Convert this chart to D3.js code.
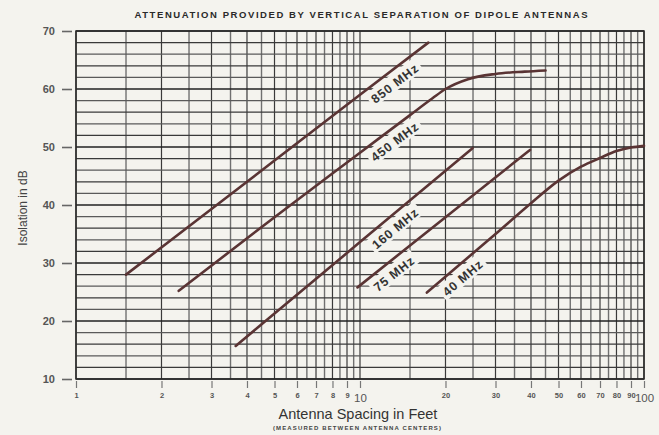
<!DOCTYPE html>
<html>
<head>
<meta charset="utf-8">
<script src="https://cdn.jsdelivr.net/npm/d3@7"></script>
<style>
  html, body { margin: 0; padding: 0; background: #f4f3ee; }
  svg { display: block; }
  text { font-family: "Liberation Sans", Arial, Helvetica, sans-serif; }
</style>
</head>
<body>
<svg id="chart" width="659" height="435"></svg>
<script>
// Isolation (dB) versus vertical antenna spacing (feet) for each band
const ft850 = [1.5, 3, 10, 17.4];
const db850 = [28, 39.3, 59, 68];
const ft450 = [2.3, 5, 10, 15, 18, 20, 24, 30, 38, 45];
const db450 = [25.2, 37.9, 49, 55.5, 58.4, 60, 61.7, 62.6, 63.0, 63.2];
const ft160 = [3.65, 10, 24.9];
const db160 = [15.7, 33.6, 49.8];
const ft75 = [9.8, 20, 39.7];
const db75 = [25.8, 37.9, 49.5];
const ft40 = [17.2, 30, 40, 50, 60, 70, 80, 90, 100];
const db40 = [24.9, 35, 40.3, 44.2, 46.6, 48.1, 49.3, 49.9, 50.2];

const bandNames = ["850 MHz", "450 MHz", "160 MHz", "75 MHz", "40 MHz"];
const labelFeet = [12.5, 12.5, 12.5, 12.4, 21.6];

const xTickValues = [1, 2, 3, 4, 5, 6, 7, 8, 9, 10, 20, 30, 40, 50, 60, 70, 80, 90, 100];
const yTickValues = [10, 20, 30, 40, 50, 60, 70];

const titleText = "ATTENUATION PROVIDED BY VERTICAL SEPARATION OF DIPOLE ANTENNAS";
const xTitle = "Antenna Spacing in Feet";
const xSubTitle = "(MEASURED BETWEEN ANTENNA CENTERS)";
const yTitle = "Isolation in dB";

const series = [
  { ft: ft850, db: db850 },
  { ft: ft450, db: db450 },
  { ft: ft160, db: db160 },
  { ft: ft75, db: db75 },
  { ft: ft40, db: db40 }
];

const svg = d3.select("#chart");
const plotLeft = 76, plotRight = 644, plotTop = 31, plotBottom = 379;

const x = d3.scaleLog().domain([1, 100]).range([plotLeft, plotRight]);
const y = d3.scaleLinear().domain([10, 70]).range([plotBottom, plotTop]);

// ---- grid ----
const grid = svg.append("g");
const vGrid = d3.range(1, 10, 0.5).concat(d3.range(10, 100.1, 5));
const isMajorFeet = d => Number.isInteger(d) && (d < 10 || d % 10 === 0);
grid.selectAll("line.v").data(vGrid).join("line")
  .attr("x1", d => x(d)).attr("x2", d => x(d))
  .attr("y1", plotTop).attr("y2", plotBottom)
  .attr("stroke", d => isMajorFeet(d) ? "#3a3a3a" : "#707070")
  .attr("stroke-width", d => isMajorFeet(d) ? 1.2 : 1.4);

const hGrid = d3.range(10, 70.1, 2);
grid.selectAll("line.h").data(hGrid).join("line")
  .attr("x1", plotLeft).attr("x2", plotRight)
  .attr("y1", d => y(d)).attr("y2", d => y(d))
  .attr("stroke", d => d % 10 === 0 ? "#222" : (d % 4 === 0 ? "#3a3a3a" : "#5a5a5a"))
  .attr("stroke-width", d => d % 10 === 0 ? 1.5 : 1.25);

// frame
svg.append("rect")
  .attr("x", plotLeft).attr("y", plotTop)
  .attr("width", plotRight - plotLeft).attr("height", plotBottom - plotTop)
  .attr("fill", "none").attr("stroke", "#2a2a2a").attr("stroke-width", 1.5);

// ---- axes ----
const yAxis = d3.axisLeft(y).tickValues(yTickValues).tickSize(10).tickPadding(7).tickFormat(d3.format("d"));
const gy = svg.append("g").attr("transform", `translate(${plotLeft - 4},0)`).call(yAxis);
gy.select(".domain").remove();
gy.selectAll(".tick line").attr("stroke", "#666").attr("stroke-width", 1.6);
gy.selectAll(".tick text")
  .attr("fill", "#555").attr("font-size", 11).attr("font-weight", "bold");

const xAxis = d3.axisBottom(x).tickValues(xTickValues).tickSize(7).tickPadding(4)
  .tickFormat(d3.format("d"));
const gx = svg.append("g").attr("transform", `translate(0,${plotBottom + 2})`).call(xAxis);
gx.select(".domain").remove();
gx.selectAll(".tick line").attr("stroke", "#777").attr("stroke-width", 1.2);
gx.selectAll(".tick text")
  .attr("fill", "#555")
  .attr("font-size", d => (d === 10 || d === 100) ? 11.5 : 7.5)
  .attr("font-weight", d => (d === 10 || d === 100) ? "normal" : "bold")
  .attr("dy", d => (d === 10 || d === 100) ? "0.9em" : "0.85em");

// ---- curves ----
const lineGen = d3.line()
  .x(d => x(d[0])).y(d => y(d[1]))
  .curve(d3.curveMonotoneX);

svg.append("g").selectAll("path").data(series).join("path")
  .attr("d", s => lineGen(s.ft.map((f, i) => [f, s.db[i]])))
  .attr("fill", "none")
  .attr("stroke", "#5a3434")
  .attr("stroke-width", 2.6)
  .attr("stroke-linecap", "round");

// ---- band labels, set along each line ----
function pointAt(s, f) {
  const px = s.ft.map(v => x(v)), py = s.db.map(v => y(v));
  const xp = x(f);
  let i = 0;
  while (i < px.length - 2 && px[i + 1] < xp) i++;
  const t = (xp - px[i]) / (px[i + 1] - px[i]);
  const ang = Math.atan2(py[i + 1] - py[i], px[i + 1] - px[i]);
  return { x: xp, y: py[i] + t * (py[i + 1] - py[i]), ang };
}

const labelG = svg.append("g");
bandNames.forEach((name, k) => {
  const p = pointAt(series[k], labelFeet[k]);
  const off = 12;
  const cx = p.x - Math.sin(p.ang) * off;
  const cy = p.y + Math.cos(p.ang) * off;
  const deg = p.ang * 180 / Math.PI;
  const g = labelG.append("g").attr("transform", `translate(${cx},${cy}) rotate(${deg})`);
  const t = g.append("text")
    .attr("text-anchor", "middle")
    .attr("dy", "0.36em")
    .attr("font-size", 12.5)
    .attr("font-weight", "bold")
    .attr("letter-spacing", 0.9)
    .attr("fill", "#333")
    .text(name);
  const w = t.node().getComputedTextLength();
  g.insert("rect", "text")
    .attr("x", -w / 2 - 3).attr("y", -9)
    .attr("width", w + 6).attr("height", 16)
    .attr("fill", "#f4f3ee");
});

// ---- titles ----
svg.append("text")
  .attr("x", 361).attr("y", 17.5)
  .attr("text-anchor", "middle")
  .attr("font-size", 9.5).attr("font-weight", "bold")
  .attr("fill", "#2a2a2a")
  .attr("textLength", 453).attr("lengthAdjust", "spacing")
  .text(titleText);

svg.append("text")
  .attr("x", 358).attr("y", 419)
  .attr("text-anchor", "middle")
  .attr("font-size", 14.5)
  .attr("fill", "#333")
  .text(xTitle);

svg.append("text")
  .attr("x", 357).attr("y", 430)
  .attr("text-anchor", "middle")
  .attr("font-size", 6).attr("font-weight", "bold")
  .attr("fill", "#444")
  .attr("textLength", 168).attr("lengthAdjust", "spacing")
  .text(xSubTitle);

svg.append("text")
  .attr("transform", "translate(27,208) rotate(-90)")
  .attr("text-anchor", "middle")
  .attr("font-size", 12)
  .attr("fill", "#444")
  .text(yTitle);
</script>
</body>
</html>
